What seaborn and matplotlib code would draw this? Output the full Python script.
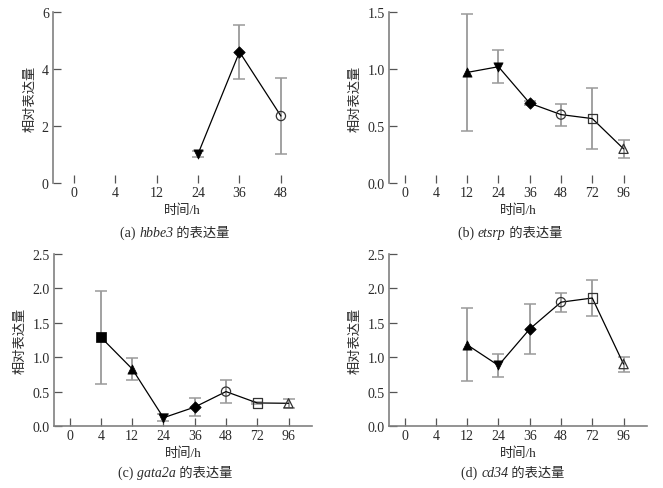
import numpy as np
import pandas as pd
import matplotlib
matplotlib.use("Agg")
import matplotlib.pyplot as plt
import seaborn as sns
from matplotlib.offsetbox import TextArea, HPacker, AnnotationBbox

sns.set_theme(style="white")
plt.rcParams['font.family'] = ['Liberation Serif', 'Noto Sans CJK SC']

# ---------------- data ----------------
times_short = ['0', '4', '12', '24', '36', '48']
times_long = ['0', '4', '12', '24', '36', '48', '72', '96']

hbbe3_t = ['24', '36', '48']
hbbe3_v = [1.02, 4.60, 2.35]
hbbe3_e = [0.12, 0.96, 1.32]

etsrp_t = ['12', '24', '36', '48', '72', '96']
etsrp_v = [0.97, 1.02, 0.70, 0.60, 0.565, 0.30]
etsrp_e = [0.51, 0.145, 0.02, 0.097, 0.27, 0.08]

gata2a_t = ['4', '12', '24', '36', '48', '72', '96']
gata2a_v = [1.29, 0.83, 0.12, 0.275, 0.50, 0.335, 0.33]
gata2a_e = [0.675, 0.16, 0.05, 0.135, 0.165, 0.02, 0.065]

cd34_t = ['12', '24', '36', '48', '72', '96']
cd34_v = [1.18, 0.88, 1.41, 1.80, 1.86, 0.90]
cd34_e = [0.53, 0.17, 0.37, 0.14, 0.26, 0.11]

# marker per time point: (marker, filled)
marker_map = {'4': ('s', True), '12': ('^', True), '24': ('v', True),
              '36': ('D', True), '48': ('o', False), '72': ('s', False),
              '96': ('^', False)}

panels = [
    dict(tl=times_short, t=hbbe3_t, v=hbbe3_v, e=hbbe3_e, ylim=6, yt=[0, 2, 4, 6], fmt='{:d}',
         gene='hbbe3', tag='(a)', bottom=False),
    dict(tl=times_long, t=etsrp_t, v=etsrp_v, e=etsrp_e, ylim=1.5, yt=[0, 0.5, 1.0, 1.5], fmt='{:.1f}',
         gene='etsrp', tag='(b)', bottom=False),
    dict(tl=times_long, t=gata2a_t, v=gata2a_v, e=gata2a_e, ylim=2.5, yt=[0, 0.5, 1, 1.5, 2, 2.5],
         fmt='{:.1f}', gene='gata2a', tag='(c)', bottom=True),
    dict(tl=times_long, t=cd34_t, v=cd34_v, e=cd34_e, ylim=2.5, yt=[0, 0.5, 1, 1.5, 2, 2.5],
         fmt='{:.1f}', gene='cd34', tag='(d)', bottom=True),
]

W, H = 663, 489
fig = plt.figure(figsize=(W / 100, H / 100), dpi=100)
fig.patch.set_facecolor('white')

# axes boxes in pixels: left, top, right, bottom
boxes = [(53, 13, 312, 184), (389, 13, 647, 184), (54, 255, 312, 427), (389, 255, 647, 427)]
caption_xy = [(175, 233), (510, 233), (175, 473), (513, 473)]

txt_col = '#2a2a2a'
spine_col = '#808080'
tick_col = '#555555'
fs = 10
fs_cjk = 9.5

for p, (l, t, r, b), (cx, cy) in zip(panels, boxes, caption_xy):
    ax = fig.add_axes([l / W, 1 - b / H, (r - l) / W, (b - t) / H])
    ax.set_facecolor('white')
    cats = p['tl']
    pos = [cats.index(x) for x in p['t']]
    df = pd.DataFrame({'pos': pos, 'val': p['v'], 'err': p['e'], 'time': p['t']})

    ax.errorbar(df['pos'], df['val'], yerr=df['err'], fmt='none', ecolor='#9a9a9a',
                elinewidth=1.3, capsize=4, capthick=1.1, zorder=1)
    sns.lineplot(data=df, x='pos', y='val', color='black', lw=0.9, ax=ax, zorder=2,
                 estimator=None, sort=False)
    for tm in df['time']:
        m, filled = marker_map[tm]
        size = 34 if m == 'D' else 44
        sub = df[df['time'] == tm]
        if filled:
            sns.scatterplot(data=sub, x='pos', y='val', marker=m, s=size, color='black',
                            edgecolor='black', linewidth=0.5, ax=ax, zorder=3)
        else:
            sns.scatterplot(data=sub, x='pos', y='val', marker=m, s=size, facecolors='none',
                            edgecolor='#333333', linewidth=0.9, ax=ax, zorder=3)

    ax.set_xlim(-0.5, len(cats) - 0.25)
    ax.set_ylim(0, p['ylim'])
    ax.set_xticks(range(len(cats)))
    ax.set_xticklabels(cats)
    ax.set_yticks(p['yt'])
    ax.set_yticklabels([p['fmt'].format(int(v) if p['fmt'] == '{:d}' else v) for v in p['yt']])

    for s in ['top', 'right']:
        ax.spines[s].set_visible(False)
    ax.spines['left'].set_color(spine_col)
    ax.spines['left'].set_linewidth(1.2)
    if p['bottom']:
        ax.spines['bottom'].set_color(spine_col)
        ax.spines['bottom'].set_linewidth(1.2)
    else:
        ax.spines['bottom'].set_visible(False)

    ax.tick_params(axis='x', direction='in', length=6, width=0.9, color=tick_col,
                   labelsize=fs, labelcolor=txt_col, pad=2.5, bottom=True)
    ax.tick_params(axis='y', direction='in', length=6, width=0.9, color=tick_col,
                   labelsize=fs, labelcolor=txt_col, pad=3, left=True)

    ax.set_xlabel('时间/h', fontsize=fs_cjk, color=txt_col)
    ax.xaxis.set_label_coords(0.5, -(204 - 184) / 171)
    ax.set_ylabel('相对表达量', fontsize=fs_cjk, color=txt_col, labelpad=4)
    ax.grid(False)

    # caption with italic gene name
    parts = [
        TextArea(p['tag'] + ' ', textprops=dict(size=fs, color=txt_col,
                                                family=['Liberation Serif', 'Noto Sans CJK SC'])),
        TextArea(p['gene'], textprops=dict(size=fs, color=txt_col, style='italic',
                                           family=['Liberation Serif'])),
        TextArea(' 的表达量', textprops=dict(size=fs_cjk, color=txt_col,
                                          family=['Liberation Serif', 'Noto Sans CJK SC'])),
    ]
    box = HPacker(children=parts, align='baseline', pad=0, sep=0)
    ab = AnnotationBbox(box, (cx / W, 1 - cy / H), xycoords='figure fraction',
                        frameon=False, box_alignment=(0.5, 0.5))
    fig.add_artist(ab)

fig.savefig('out.png', dpi=100, facecolor='white')
